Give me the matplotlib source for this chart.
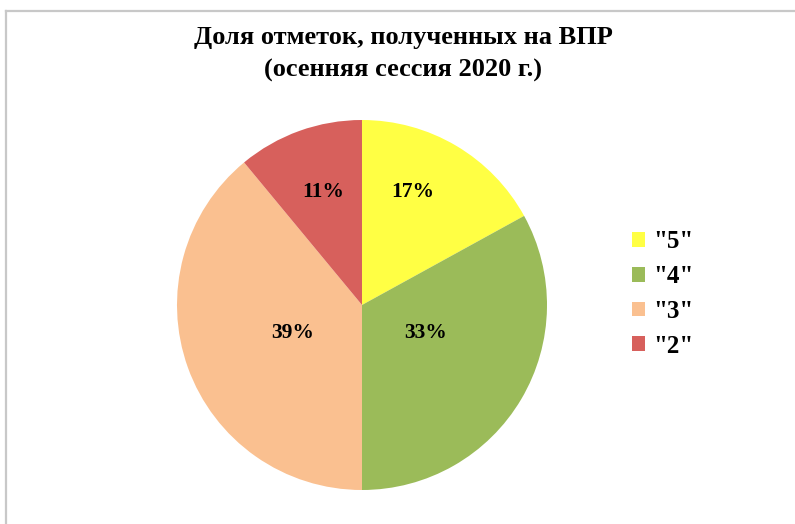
import matplotlib
matplotlib.use("Agg")
import matplotlib.pyplot as plt
from matplotlib.lines import Line2D
from matplotlib.patches import Patch

categories = ['"5"', '"4"', '"3"', '"2"']
shares = [17, 33, 39, 11]
colors = ['#FFFF44', '#9BBB59', '#FAC090', '#D7605C']

title = "Доля отметок, полученных на ВПР\n(осенняя сессия 2020 г.)"

W, H = 795, 524
fig = plt.figure(figsize=(W / 100, H / 100), dpi=100)
fig.patch.set_facecolor('white')

serif = ['Liberation Serif', 'DejaVu Serif']

# pie axes: center (362,305) px, radius 185 px
cx, cy, r = 362, 305, 185
ax = fig.add_axes([(cx - r) / W, (H - cy - r) / H, 2 * r / W, 2 * r / H])
wedges, texts, autotexts = ax.pie(
    shares, colors=colors, startangle=90, counterclock=False,
    autopct=lambda p: f"{p:.0f}%", pctdistance=0.6,
    wedgeprops=dict(linewidth=0),
    textprops=dict(fontfamily=serif, fontweight='bold', fontsize=15.5, color='black'))
ax.set_xlim(-1, 1)
ax.set_ylim(-1, 1)
ax.set_aspect('equal')

# label placements (relative to radius), like the Excel best-fit layout
label_xy = [(0.276, 0.611), (0.341, -0.151), (-0.373, -0.151), (-0.211, 0.611)]
for t, (x, y) in zip(autotexts, label_xy):
    t.set_position((x, y))
    t.set_ha('center')
    t.set_va('center')

fig.text(403 / W, 1 - 54 / H, title, ha='center', va='center',
         fontfamily=serif, fontweight='bold', fontsize=19, linespacing=1.55)

handles = [Patch(facecolor=c, edgecolor='none') for c in colors]
leg = fig.legend(handles, categories, loc='center left',
                 bbox_to_anchor=(632 / W, 1 - 294 / H),
                 frameon=False, borderpad=0, borderaxespad=0,
                 handlelength=0.52, handleheight=0.52,
                 handletextpad=0.32, labelspacing=0.47,
                 prop=dict(family=serif, weight='bold', size=18))

# partial frame (top and left edges)
border = '#C8C8C8'
fig.add_artist(Line2D([6 / W, 6 / W], [0, 1 - 11 / H], color=border, lw=1.6,
                      transform=fig.transFigure))
fig.add_artist(Line2D([6 / W, 1], [1 - 11 / H, 1 - 11 / H], color=border, lw=1.6,
                      transform=fig.transFigure))

fig.savefig('out.png', dpi=100, facecolor='white')
